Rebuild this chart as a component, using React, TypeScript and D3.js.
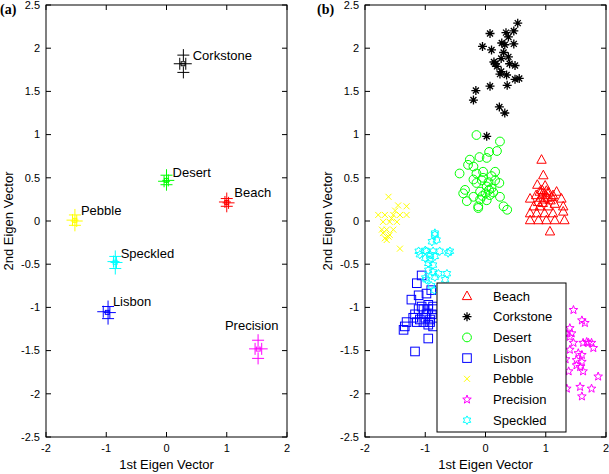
import React from "react";
import * as d3 from "d3";

// ---------- DATA ----------
const categories = ["Beach", "Corkstone", "Desert", "Lisbon", "Pebble", "Precision", "Speckled"];
const colors = ["#ff0000", "#000000", "#00ff00", "#0000ff", "#ffff00", "#ff00ff", "#00ffff"];
const markers = ["triangle", "star", "circle", "square", "x", "pentagram", "hexagram"];

const xTicks = [-2, -1, 0, 1, 2];
const yTicks = [-2.5, -2, -1.5, -1, -0.5, 0, 0.5, 1, 1.5, 2, 2.5];

// panel (a): class means (several "+" markers each) and text labels
const meansA: number[][][] = [
  [[1.0, 0.26], [0.97, 0.22], [1.03, 0.21], [1.0, 0.17]],
  [[0.28, 1.92], [0.22, 1.82], [0.32, 1.82], [0.28, 1.72]],
  [[0.0, 0.53], [-0.04, 0.46], [0.03, 0.47], [0.0, 0.42]],
  [[-0.97, -0.99], [-1.05, -1.05], [-0.94, -1.06], [-0.97, -1.13]],
  [[-1.52, 0.07], [-1.56, 0.01], [-1.49, 0.0], [-1.52, -0.05]],
  [[1.52, -1.38], [1.47, -1.48], [1.58, -1.48], [1.52, -1.59]],
  [[-0.85, -0.41], [-0.88, -0.47], [-0.83, -0.48], [-0.85, -0.55]],
];
const labelPosA: number[][] = [
  [1.125, 0.33], [0.435, 1.92], [0.1, 0.56], [-0.89, -0.93], [-1.42, 0.12], [0.97, -1.21], [-0.76, -0.37],
];

// panel (b): individual samples
const beachPts: number[][] = [
  [0.93, 0.71], [0.96, 0.53], [0.86, 0.42], [0.99, 0.41], [0.9, 0.34], [0.95, 0.32], [1.0, 0.3], [1.05, 0.33],
  [1.1, 0.28], [0.92, 0.27], [0.98, 0.25], [1.03, 0.27], [1.08, 0.24], [1.12, 0.3], [0.94, 0.36], [1.01, 0.35],
  [1.18, 0.34], [1.26, 0.26], [0.74, 0.26], [0.84, 0.3], [0.8, 0.17], [0.9, 0.17], [1.04, 0.17], [1.29, 0.17],
  [0.74, 0.09], [0.85, 0.09], [0.98, 0.09], [1.12, 0.09], [1.29, 0.11], [0.74, 0.01], [0.88, 0.01], [1.01, 0.01],
  [1.15, 0.01], [1.31, 0.01], [1.07, -0.12], [0.95, 0.21], [1.15, 0.2], [0.87, 0.22],
];
const corkstonePts: number[][] = [
  [0.535, 2.29], [0.47, 2.2], [0.34, 2.18], [0.075, 2.17], [-0.05, 2.02], [0.1, 1.98], [0.27, 2.06], [0.32, 2.04],
  [0.47, 2.05], [0.38, 2.13], [0.14, 1.84], [0.16, 1.82], [0.26, 1.88], [0.38, 1.9], [0.4, 1.82], [0.49, 1.8],
  [0.19, 1.79], [0.26, 1.73], [0.24, 1.7], [0.35, 1.69], [0.49, 1.64], [0.56, 1.65], [0.36, 1.57], [0.075, 1.56],
  [-0.16, 1.51], [-0.2, 1.4], [0.23, 1.32], [0.32, 1.25], [0.02, 0.98], [0.3, 1.95],
];
const desertPts: number[][] = [
  [-0.15, 0.995], [0.24, 0.92], [0.06, 0.8], [0.19, 0.81], [0.02, 0.73], [-0.26, 0.71], [-0.1, 0.74], [-0.29, 0.65],
  [-0.2, 0.63], [-0.43, 0.55], [-0.15, 0.55], [-0.04, 0.57], [0.16, 0.57], [-0.06, 0.47], [0.05, 0.45], [0.16, 0.47],
  [-0.15, 0.44], [0.23, 0.44], [0.02, 0.4], [0.1, 0.38], [-0.34, 0.36], [-0.37, 0.32], [-0.09, 0.34], [0.0, 0.32],
  [0.07, 0.3], [-0.2, 0.28], [0.24, 0.28], [-0.31, 0.23], [-0.09, 0.25], [0.02, 0.24], [-0.12, 0.17], [0.3, 0.17],
  [0.36, 0.13], [-0.12, 0.15], [-0.04, 0.5], [0.1, 0.52], [-0.2, 0.48], [0.06, 0.36], [-0.05, 0.29], [0.13, 0.33],
];
const lisbonPts: number[][] = [
  [-1.06, -0.63], [-1.14, -0.72], [-0.98, -0.84], [-1.11, -0.86], [-1.23, -0.91], [-1.11, -1.02], [-1.03, -1.02],
  [-0.95, -1.02], [-0.87, -1.02], [-1.2, -1.12], [-1.09, -1.14], [-1.0, -1.12], [-0.92, -1.14], [-0.95, -1.2],
  [-1.34, -1.22], [-1.36, -1.26], [-0.95, -1.36], [-1.17, -1.51], [-1.06, -0.99], [-0.95, -0.97], [-0.87, -0.99],
  [-1.17, -1.08], [-0.98, -1.08], [-0.89, -1.08], [-1.31, -1.17], [-1.14, -1.17], [-1.03, -1.17], [-0.92, -1.17],
  [-0.87, -1.22], [-0.9, -0.8],
];
const pebblePts: number[][] = [
  [-1.61, 0.28], [-1.45, 0.18], [-1.31, 0.17], [-1.78, 0.07], [-1.67, 0.07], [-1.53, 0.07], [-1.42, 0.07],
  [-1.31, 0.07], [-1.7, -0.01], [-1.59, -0.01], [-1.47, -0.01], [-1.72, -0.1], [-1.64, -0.1], [-1.53, -0.1],
  [-1.67, -0.2], [-1.61, -0.18], [-1.42, -0.32], [-1.7, -0.14], [-1.59, -0.16], [-1.64, -0.22], [-1.5, 0.12],
  [-1.56, 0.03],
];
const precisionPts: number[][] = [
  [1.46, -1.03], [1.6, -1.15], [1.65, -1.18], [1.4, -1.24], [1.43, -1.3], [1.46, -1.41], [1.62, -1.41],
  [1.71, -1.41], [1.76, -1.41], [1.4, -1.49], [1.54, -1.53], [1.6, -1.55], [1.51, -1.61], [1.6, -1.63],
  [1.51, -1.67], [1.57, -1.69], [1.38, -1.74], [1.62, -1.74], [1.87, -1.8], [1.35, -1.94], [1.57, -1.92],
  [1.76, -1.94], [1.6, -2.03], [1.4, -1.34], [1.68, -1.4], [1.79, -1.47], [1.33, -1.6], [1.33, -1.3],
];
const speckledPts: number[][] = [
  [-0.84, -0.14], [-0.81, -0.22], [-0.89, -0.24], [-1.11, -0.35], [-0.98, -0.35], [-0.87, -0.35], [-0.76, -0.35],
  [-0.59, -0.35], [-0.92, -0.39], [-0.84, -0.41], [-1.0, -0.43], [-0.95, -0.49], [-0.87, -0.51], [-0.95, -0.57],
  [-0.87, -0.59], [-0.78, -0.61], [-1.0, -0.66], [-0.84, -0.65], [-0.67, -0.68], [-0.84, -0.16], [-1.09, -0.39],
  [-1.0, -0.34], [-0.62, -0.37], [-0.64, -0.61], [-0.98, -0.68], [-0.9, -0.75], [-0.85, -0.8], [-0.92, -0.45],
];
const pointsB = [beachPts, corkstonePts, desertPts, lisbonPts, pebblePts, precisionPts, speckledPts];

// ---------- HELPERS ----------
function starPath(n: number, ro: number, ri: number): string {
  const pts: [number, number][] = [];
  for (let i = 0; i < 2 * n; i++) {
    const a = -Math.PI / 2 + (i * Math.PI) / n;
    const r = i % 2 === 0 ? ro : ri;
    pts.push([r * Math.cos(a), r * Math.sin(a)]);
  }
  return "M" + pts.map((p) => p[0].toFixed(2) + "," + p[1].toFixed(2)).join("L") + "Z";
}

function Marker({ type, color, x, y }: { type: string; color: string; x: number; y: number }) {
  const t = `translate(${x},${y})`;
  const common = { fill: "none", stroke: color, strokeWidth: 1 } as any;
  switch (type) {
    case "triangle":
      return <path transform={t} d="M0,-5L4.7,3.6L-4.7,3.6Z" {...common} />;
    case "circle":
      return <circle cx={x} cy={y} r={4.4} {...common} />;
    case "square":
      return <rect x={x - 4.3} y={y - 4.3} width={8.6} height={8.6} {...common} />;
    case "x":
      return <path transform={t} d="M-3,-3L3,3M-3,3L3,-3" {...common} />;
    case "star":
      return (
        <g transform={t}>
          <path d="M-4.5,0L4.5,0M0,-4.5L0,4.5M-3,-3L3,3M-3,3L3,-3" stroke={color} strokeWidth={1.3} fill="none" />
          <circle r={1.5} fill={color} />
        </g>
      );
    case "pentagram":
      return <path transform={t} d={starPath(5, 4.5, 1.9)} {...common} />;
    case "hexagram":
      return <path transform={t} d={starPath(6, 4.3, 2.5)} {...common} />;
    case "plus":
      return <path transform={t} d="M-6,0L6,0M0,-6L0,6" {...common} />;
    default:
      return null;
  }
}

const FONT = "Arial, 'Liberation Sans', Helvetica, sans-serif";

function Axes({ x, y, x0, x1, y0, y1 }: any) {
  const tl = 5;
  return (
    <g>
      <rect x={x0} y={y0} width={x1 - x0} height={y1 - y0} fill="none" stroke="#000" strokeWidth={1} />
      {xTicks.map((v) => (
        <g key={"x" + v}>
          <line x1={x(v)} x2={x(v)} y1={y1} y2={y1 - tl} stroke="#000" />
          <line x1={x(v)} x2={x(v)} y1={y0} y2={y0 + tl} stroke="#000" />
          <text x={x(v)} y={y1 + 15} textAnchor="middle" fontSize={11} fontFamily={FONT}>
            {v}
          </text>
        </g>
      ))}
      {yTicks.map((v) => (
        <g key={"y" + v}>
          <line x1={x0} x2={x0 + tl} y1={y(v)} y2={y(v)} stroke="#000" />
          <line x1={x1} x2={x1 - tl} y1={y(v)} y2={y(v)} stroke="#000" />
          <text x={x0 - 6} y={y(v)} dy="0.35em" textAnchor="end" fontSize={11} fontFamily={FONT}>
            {v}
          </text>
        </g>
      ))}
      <text x={(x0 + x1) / 2} y={469} textAnchor="middle" fontSize={13} fontFamily={FONT}>
        1st Eigen Vector
      </text>
      <text
        transform={`translate(${x0 - 33},${(y0 + y1) / 2}) rotate(-90)`}
        textAnchor="middle"
        fontSize={13}
        fontFamily={FONT}
      >
        2nd Eigen Vector
      </text>
    </g>
  );
}

export default function App() {
  const yScale = d3.scaleLinear().domain([-2.5, 2.5]).range([437, 5]);
  const xA = d3.scaleLinear().domain([-2, 2]).range([46, 287]);
  const xB = d3.scaleLinear().domain([-2, 2]).range([365, 606]);

  const legX0 = 437, legY0 = 283, legW = 129, legH = 149;

  return (
    <svg
      width={609}
      height={474}
      style={{ position: "absolute", left: 0, top: 0, background: "#fff" }}
    >
      <rect x={0} y={0} width={609} height={474} fill="#fff" />
      {/* Panel (a) */}
      <text x={0} y={14} fontFamily="'Liberation Serif', 'Times New Roman', serif" fontWeight="bold" fontSize={14}>
        (a)
      </text>
      <Axes x={xA} y={yScale} x0={46} x1={287} y0={5} y1={437} />
      {categories.map((c, i) => (
        <g key={"a" + c}>
          {meansA[i].map((p, j) => (
            <Marker key={j} type="plus" color={colors[i]} x={xA(p[0])} y={yScale(p[1])} />
          ))}
          <rect
            x={xA(d3.mean(meansA[i], (p) => p[0])!) - 2}
            y={yScale(d3.mean(meansA[i], (p) => p[1])!) - 2}
            width={4}
            height={4}
            fill="none"
            stroke={colors[i]}
          />
          <text
            x={xA(labelPosA[i][0])}
            y={yScale(labelPosA[i][1])}
            dy="0.35em"
            fontSize={13}
            fontFamily={FONT}
          >
            {c}
          </text>
        </g>
      ))}

      {/* Panel (b) */}
      <text x={317} y={14} fontFamily="'Liberation Serif', 'Times New Roman', serif" fontWeight="bold" fontSize={14}>
        (b)
      </text>
      <Axes x={xB} y={yScale} x0={365} x1={606} y0={5} y1={437} />
      {categories.map((c, i) => (
        <g key={"b" + c}>
          {pointsB[i].map((p, j) => (
            <Marker key={j} type={markers[i]} color={colors[i]} x={xB(p[0])} y={yScale(p[1])} />
          ))}
        </g>
      ))}
      {/* Legend */}
      <rect x={legX0} y={legY0} width={legW} height={legH} fill="#fff" stroke="#000" strokeWidth={1} />
      {categories.map((c, i) => {
        const cy = legY0 + 13 + i * 20.7;
        return (
          <g key={"l" + c}>
            <Marker type={markers[i]} color={colors[i]} x={467} y={cy} />
            <text x={493} y={cy} dy="0.35em" fontSize={13} fontFamily={FONT}>
              {c}
            </text>
          </g>
        );
      })}
    </svg>
  );
}
